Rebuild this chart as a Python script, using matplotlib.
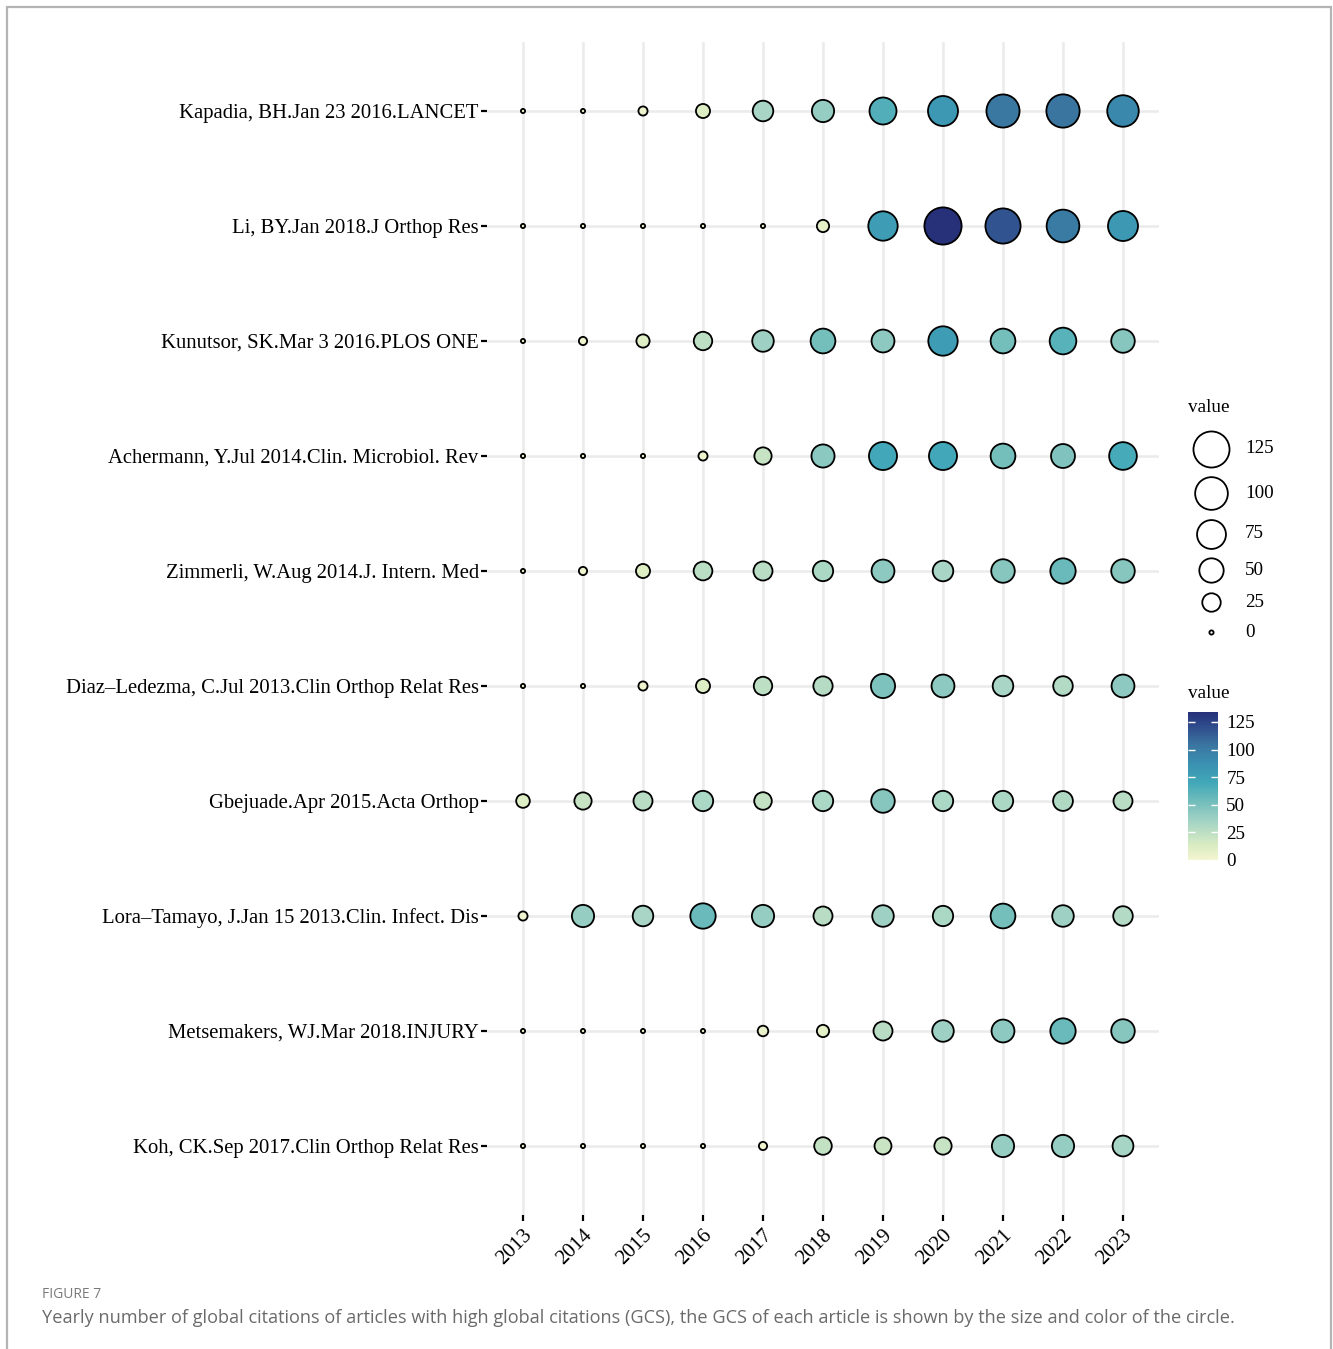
import matplotlib
matplotlib.use("Agg")
import matplotlib.pyplot as plt
import numpy as np
from matplotlib.colors import LinearSegmentedColormap, Normalize

plt.rcParams["font.family"] = ["Liberation Serif", "DejaVu Serif"]

W, H = 1333, 1349
DPI = 100

years = ["2013", "2014", "2015", "2016", "2017", "2018",
         "2019", "2020", "2021", "2022", "2023"]

# articles, top to bottom
articles = [
    "Kapadia, BH.Jan 23 2016.LANCET",
    "Li, BY.Jan 2018.J Orthop Res",
    "Kunutsor, SK.Mar 3 2016.PLOS ONE",
    "Achermann, Y.Jul 2014.Clin. Microbiol. Rev",
    "Zimmerli, W.Aug 2014.J. Intern. Med",
    "Diaz\u2013Ledezma, C.Jul 2013.Clin Orthop Relat Res",
    "Gbejuade.Apr 2015.Acta Orthop",
    "Lora\u2013Tamayo, J.Jan 15 2013.Clin. Infect. Dis",
    "Metsemakers, WJ.Mar 2018.INJURY",
    "Koh, CK.Sep 2017.Clin Orthop Relat Res",
]

# yearly global citations, 2013..2023
kapadia = [0, 0, 3, 12, 33, 40, 64, 82, 103, 104, 92]
li = [0, 0, 0, 0, 0, 8, 78, 134, 118, 100, 82]
kunutsor = [0, 2, 10, 25, 37, 52, 43, 78, 52, 62, 46]
achermann = [0, 0, 0, 3, 21, 44, 70, 70, 52, 48, 68]
zimmerli = [0, 2, 12, 26, 27, 32, 43, 33, 46, 55, 46]
diaz = [0, 0, 3, 12, 25, 28, 49, 43, 33, 29, 43]
gbejuade = [11, 21, 27, 32, 22, 32, 46, 32, 32, 30, 27]
lora = [3, 40, 33, 55, 40, 27, 37, 32, 52, 37, 29]
metsemakers = [0, 0, 0, 0, 5, 8, 27, 37, 43, 55, 46]
koh = [0, 0, 0, 0, 2, 22, 20, 21, 40, 40, 34]

citations = [kapadia, li, kunutsor, achermann, zimmerli,
             diaz, gbejuade, lora, metsemakers, koh]

legend_values = [125, 100, 75, 50, 25, 0]
cbar_ticks = [0, 25, 50, 75, 100, 125]

cmap = LinearSegmentedColormap.from_list("gcs", [
    (0.00, "#f3f5d0"),
    (0.10, "#d9ecc2"),
    (0.25, "#a7d5c5"),
    (0.40, "#70bcbb"),
    (0.52, "#42a8b9"),
    (0.65, "#3a91b1"),
    (0.78, "#3a74a0"),
    (0.90, "#2f4d8c"),
    (1.00, "#26317a"),
])

EDGE_LW = 1.3  # points


def diameter_px(v):
    # outer diameter of a point, in pixels
    return 6.0 + 2.85 * np.sqrt(np.asarray(v, dtype=float))


def marker_area(v):
    d = diameter_px(v) - EDGE_LW * DPI / 72
    return (d * 72 / DPI) ** 2


vals = np.array(citations, dtype=float)
norm = Normalize(vmin=0, vmax=vals.max())

fig = plt.figure(figsize=(W / DPI, H / DPI), dpi=DPI)

# page frame
frame = fig.add_axes([0, 0, 1, 1])
frame.set_xlim(0, W)
frame.set_ylim(H, 0)
frame.axis("off")
frame.plot([7, 7, 1331, 1331], [H, 7, 7, H], color="#b4b4b4", lw=1.6,
           solid_joinstyle="miter")

left, right, top, bottom = 487, 1159, 42, 1215
ax = fig.add_axes([left / W, 1 - bottom / H, (right - left) / W, (bottom - top) / H])

n_rows = len(articles)
xs, ys, vs = [], [], []
for i, row in enumerate(citations):
    for j, v in enumerate(row):
        xs.append(j)
        ys.append(n_rows - 1 - i)
        vs.append(v)
vs = np.array(vs)

ax.scatter(xs, ys, s=marker_area(vs), c=vs, cmap=cmap, norm=norm,
           edgecolors="black", linewidths=EDGE_LW, zorder=3)

ax.set_xlim(-0.6, len(years) - 0.4)
ax.set_ylim(-0.6, n_rows - 0.4)
ax.set_xticks(range(len(years)))
ax.set_xticklabels(years, rotation=45, ha="right", va="top",
                   rotation_mode="anchor", fontsize=15)
ax.set_yticks(range(n_rows))
ax.set_yticklabels(articles[::-1], fontsize=14.85)
ax.tick_params(axis="both", length=4, width=1.6, color="black", pad=2)
ax.tick_params(axis="x", pad=4)
ax.grid(True, color="#ebebeb", lw=1.8)
ax.set_axisbelow(True)
for sp in ax.spines.values():
    sp.set_visible(False)

# size legend
frame.text(1188, 407, "value", fontsize=13.8, ha="left", va="center")
top_y = 426
for v in legend_values:
    h = max(diameter_px(v) + 8, 30)
    cy = top_y + h / 2
    frame.scatter([1211], [cy], s=marker_area(v), facecolors="white",
                  edgecolors="black", linewidths=EDGE_LW)
    frame.text(1245, cy, str(v), fontsize=13.8, ha="left", va="center")
    top_y += h

# colour bar
frame.text(1188, 693, "value", fontsize=13.8, ha="left", va="center")
cax = fig.add_axes([1188 / W, 1 - 860 / H, 30 / W, 148 / H])
sm = plt.cm.ScalarMappable(norm=norm, cmap=cmap)
cb = fig.colorbar(sm, cax=cax, ticks=cbar_ticks)
cb.outline.set_visible(False)
cax.yaxis.set_ticks_position("both")
cax.tick_params(direction="in", length=5, width=1, color="white",
                labelsize=13.8, pad=6)

# caption
fig.text(42 / W, 1 - 1295 / H, "FIGURE 7", fontsize=10, color="#7a7a7a",
         family=["Open Sans", "DejaVu Sans"], ha="left", va="center")
fig.text(42 / W, 1 - 1318 / H,
         "Yearly number of global citations of articles with high global citations (GCS), "
         "the GCS of each article is shown by the size and color of the circle.",
         fontsize=13.05, color="#6a6a6a", family=["Open Sans", "DejaVu Sans"],
         ha="left", va="center")

fig.savefig("out.png", dpi=DPI)
